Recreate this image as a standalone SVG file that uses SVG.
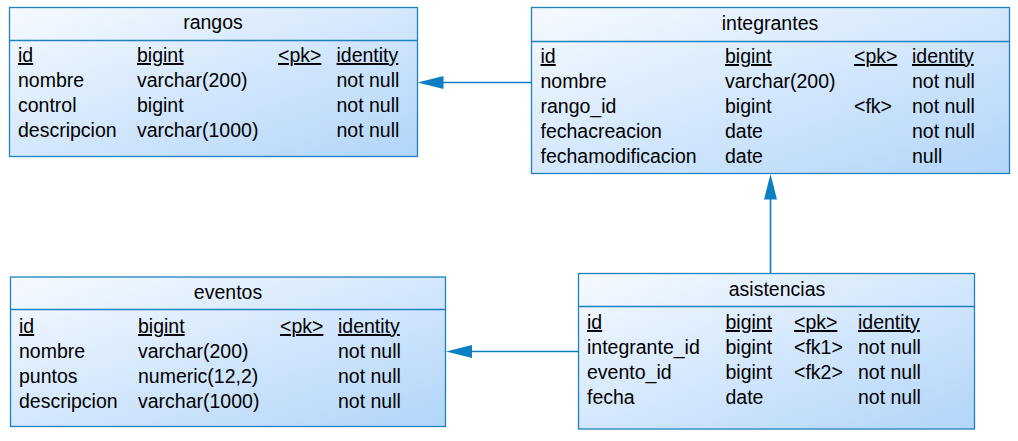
<svg xmlns="http://www.w3.org/2000/svg" width="1018" height="441" viewBox="0 0 1018 441">
<defs>
<linearGradient id="g" x1="0" y1="0" x2="1" y2="1">
<stop offset="0" stop-color="#f6faff"/>
<stop offset="1" stop-color="#b2d5f9"/>
</linearGradient>
<style>
.box{fill:url(#g);stroke:#1e82c0;stroke-width:1.3}
.div{stroke:#1e82c0;stroke-width:1.3}
text{font-family:"Liberation Sans",Arial,sans-serif;font-size:19.5px;fill:#000}
.t{text-anchor:middle}
.u{text-decoration:underline}
.c{stroke:#0a7fc4;stroke-width:1.6;fill:none}
.ah{fill:#0a7fc4}
</style>
</defs>
<rect width="1018" height="441" fill="#fff"/>

<g id="connectors">
<line class="c" x1="531" y1="82.5" x2="443" y2="82.5"/>
<path class="ah" d="M417.5,82.5 L443.5,76 L443.5,89 Z"/>
<line class="c" x1="770.5" y1="273" x2="770.5" y2="199"/>
<path class="ah" d="M770.5,174 L764,199.5 L777,199.5 Z"/>
<line class="c" x1="578" y1="351.5" x2="471" y2="351.5"/>
<path class="ah" d="M446,351.5 L472,345 L472,358 Z"/>
</g>

<g id="rangos">
<rect class="box" x="9.5" y="7.5" width="408" height="149"/>
<line class="div" x1="9.5" y1="40.5" x2="417.5" y2="40.5"/>
<text class="t" x="213" y="29">rangos</text>
<text class="u" x="18" y="62">id</text>
<text class="u" x="137" y="62">bigint</text>
<text class="u" x="278" y="62">&lt;pk&gt;</text>
<text class="u" x="336.5" y="62">identity</text>
<text x="18" y="87">nombre</text>
<text x="137" y="87">varchar(200)</text>
<text x="336.5" y="87">not null</text>
<text x="18" y="112">control</text>
<text x="137" y="112">bigint</text>
<text x="336.5" y="112">not null</text>
<text x="18" y="137">descripcion</text>
<text x="137" y="137">varchar(1000)</text>
<text x="336.5" y="137">not null</text>
</g>

<g id="integrantes">
<rect class="box" x="531.5" y="7.5" width="478" height="166"/>
<line class="div" x1="531.5" y1="41.5" x2="1009.5" y2="41.5"/>
<text class="t" x="770" y="30">integrantes</text>
<text class="u" x="540.5" y="63">id</text>
<text class="u" x="725" y="63">bigint</text>
<text class="u" x="854" y="63">&lt;pk&gt;</text>
<text class="u" x="912" y="63">identity</text>
<text x="540.5" y="88">nombre</text>
<text x="725" y="88">varchar(200)</text>
<text x="912" y="88">not null</text>
<text x="540.5" y="113">rango_id</text>
<text x="725" y="113">bigint</text>
<text x="854" y="113">&lt;fk&gt;</text>
<text x="912" y="113">not null</text>
<text x="540.5" y="138">fechacreacion</text>
<text x="725" y="138">date</text>
<text x="912" y="138">not null</text>
<text x="540.5" y="163">fechamodificacion</text>
<text x="725" y="163">date</text>
<text x="912" y="163">null</text>
</g>

<g id="eventos">
<rect class="box" x="10.5" y="277" width="435" height="149.5"/>
<line class="div" x1="10.5" y1="309.5" x2="445.5" y2="309.5"/>
<text class="t" x="228" y="299">eventos</text>
<text class="u" x="19" y="333">id</text>
<text class="u" x="138" y="333">bigint</text>
<text class="u" x="280" y="333">&lt;pk&gt;</text>
<text class="u" x="338" y="333">identity</text>
<text x="19" y="358">nombre</text>
<text x="138" y="358">varchar(200)</text>
<text x="338" y="358">not null</text>
<text x="19" y="383">puntos</text>
<text x="138" y="383">numeric(12,2)</text>
<text x="338" y="383">not null</text>
<text x="19" y="408">descripcion</text>
<text x="138" y="408">varchar(1000)</text>
<text x="338" y="408">not null</text>
</g>

<g id="asistencias">
<rect class="box" x="578.5" y="273.5" width="396" height="155.5"/>
<line class="div" x1="578.5" y1="306.5" x2="974.5" y2="306.5"/>
<text class="t" x="777" y="296">asistencias</text>
<text class="u" x="587" y="329">id</text>
<text class="u" x="725.5" y="329">bigint</text>
<text class="u" x="794" y="329">&lt;pk&gt;</text>
<text class="u" x="858" y="329">identity</text>
<text x="587" y="354">integrante_id</text>
<text x="725.5" y="354">bigint</text>
<text x="794" y="354">&lt;fk1&gt;</text>
<text x="858" y="354">not null</text>
<text x="587" y="379">evento_id</text>
<text x="725.5" y="379">bigint</text>
<text x="794" y="379">&lt;fk2&gt;</text>
<text x="858" y="379">not null</text>
<text x="587" y="404">fecha</text>
<text x="725.5" y="404">date</text>
<text x="858" y="404">not null</text>
</g>
</svg>
